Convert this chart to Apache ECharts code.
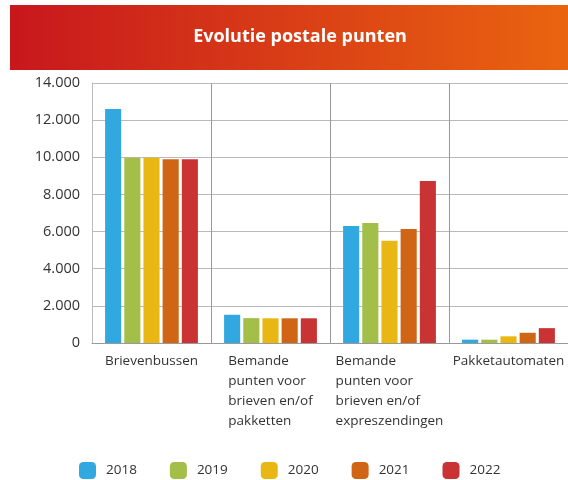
<!DOCTYPE html>
<html>
<head>
<meta charset="utf-8">
<script src="https://cdn.jsdelivr.net/npm/echarts@6/dist/echarts.min.js"></script>
<style>
html, body { margin: 0; padding: 0; background: #fff; }
#chart { width: 568px; height: 480px; }
</style>
</head>
<body>
<div id="chart"></div>
<script>
const categories = [
	'Brievenbussen',
	'Bemande\npunten voor\nbrieven en/of\npakketten',
	'Bemande\npunten voor\nbrieven en/of\nexpreszendingen',
	'Pakketautomaten'
];
const years = ['2018', '2019', '2020', '2021', '2022'];
const v2018 = [12600, 1520, 6300, 180];
const v2019 = [9970, 1340, 6460, 180];
const v2020 = [9970, 1330, 5510, 360];
const v2021 = [9900, 1330, 6140, 550];
const v2022 = [9900, 1330, 8720, 800];
const yTicks = [0, 2000, 4000, 6000, 8000, 10000, 12000, 14000];

const values = [v2018, v2019, v2020, v2021, v2022];
const colors = ['#31a8e0', '#a3bf4a', '#e8b713', '#d06516', '#c93333'];
const font = '"Open Sans", sans-serif';

const chart = echarts.init(document.getElementById('chart'));

const series = years.map((y, i) => ({
	name: y,
	type: 'bar',
	data: values[i],
	barGap: '19%',
	barCategoryGap: '22%',
	itemStyle: { color: colors[i] }
}));

chart.setOption({
	animation: false,
	graphic: [
		{
			type: 'rect',
			shape: { x: 10, y: 5, width: 600, height: 65 },
			style: {
				fill: new echarts.graphic.LinearGradient(0, 0, 1, 0, [
					{ offset: 0, color: '#c8171d' },
					{ offset: 1, color: '#ec6a0e' }
				])
			},
			z: 0
		},
		{
			type: 'text',
			x: 300,
			y: 37,
			style: {
				text: 'Evolutie postale punten',
				fill: '#fff',
				font: 'bold 18px ' + font,
				textAlign: 'center',
				textVerticalAlign: 'middle'
			},
			z: 1
		}
	],
	legend: {
		left: 79,
		top: 462,
		padding: 0,
		itemWidth: 17,
		itemHeight: 17,
		itemGap: 33,
		icon: 'roundRect',
		textStyle: { color: '#333', fontSize: 13.5, fontFamily: font, padding: [0, 0, 0, 5] },
		data: years
	},
	grid: {
		left: 92,
		top: 83,
		bottom: 137,
		width: 479,
		containLabel: false
	},
	xAxis: {
		type: 'category',
		data: categories,
		axisLine: { lineStyle: { color: '#999' } },
		axisTick: { show: false },
		splitLine: { show: true, lineStyle: { color: '#999' } },
		axisLabel: {
			interval: 0,
			margin: 8,
			align: 'center',
			verticalAlign: 'top',
			formatter: v => v.split('\n').map(s => '{a|' + s + '}').join('\n'),
			rich: {
				a: {
					align: 'left',
					fontSize: 13.5,
					lineHeight: 20,
					color: '#333',
					fontFamily: font
				}
			}
		}
	},
	yAxis: {
		type: 'value',
		min: yTicks[0],
		max: yTicks[yTicks.length - 1],
		interval: 2000,
		axisLine: { show: true, lineStyle: { color: '#bbb' } },
		splitLine: { lineStyle: { color: '#bbb' } },
		axisLabel: {
			margin: 12,
			fontSize: 14.5,
			color: '#333',
			fontFamily: font,
			formatter: v => String(v).replace(/\B(?=(\d{3})+(?!\d))/g, '.')
		}
	},
	series: series
});
</script>
</body>
</html>
